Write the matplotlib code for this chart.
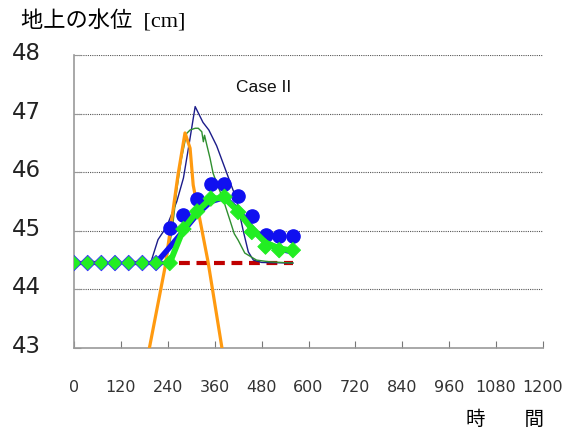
import matplotlib
matplotlib.use("Agg")
import matplotlib.pyplot as plt
import matplotlib.transforms as mtransforms

# ---------------- data ----------------
t_obs = [0, 35, 70, 105, 140, 175, 210, 245, 280, 315, 350, 385, 420, 455, 490, 525, 560]
green_obs = [44.45, 44.45, 44.45, 44.45, 44.45, 44.45, 44.45, 44.45,
             45.03, 45.33, 45.55, 45.58, 45.32, 44.98, 44.73, 44.67, 44.67]
t_blue_obs = [245, 280, 315, 350, 385, 420, 455, 490, 525, 560]
blue_obs = [45.05, 45.27, 45.55, 45.80, 45.80, 45.60, 45.26, 44.93, 44.91, 44.91]

t_blue_model = [210, 245, 280, 315, 350, 385, 420, 455, 490, 525, 560]
blue_model = [44.45, 44.72, 45.00, 45.28, 45.50, 45.57, 45.35, 45.05, 44.80, 44.69, 44.64]

t_green_model = [245, 280, 315, 350, 385, 420, 455, 490, 525, 560]
green_model = [44.45, 45.03, 45.33, 45.55, 45.56, 45.33, 45.03, 44.80, 44.70, 44.66]

t_navy = [196, 215, 237, 263, 280, 295, 310, 330, 345, 365, 390, 415, 433, 446, 459, 480, 560]
navy = [44.45, 44.85, 45.07, 45.50, 45.90, 46.50, 47.12, 46.85, 46.72, 46.45, 46.00,
        45.55, 45.00, 44.64, 44.50, 44.46, 44.45]

t_thin_green = [235, 251, 263, 274, 288, 297, 310, 318, 327, 331, 334, 340, 348, 356,
                369, 382, 399, 410, 420, 437, 467, 501, 560]
thin_green = [44.45, 45.00, 45.70, 46.20, 46.66, 46.72, 46.75, 46.75, 46.69, 46.52, 46.63,
              46.46, 46.24, 45.98, 45.75, 45.53, 45.18, 44.95, 44.84, 44.62, 44.50, 44.47, 44.45]

t_orange = [190, 233, 266, 284, 297, 305, 343, 381]
orange = [42.90, 44.38, 45.95, 46.67, 46.41, 45.78, 44.47, 42.90]

t_base = [0, 560]
base = [44.45, 44.45]

x_ticks = [0, 120, 240, 360, 480, 600, 720, 840, 960, 1080, 1200]
y_ticks = [43, 44, 45, 46, 47, 48]

# ---------------- figure ----------------
fig = plt.figure(figsize=(5.76, 4.34), dpi=100)
ax = fig.add_axes([74/576, 1-348/434, 469/576, 293/434])
ax.set_xlim(0, 1200)
ax.set_ylim(43, 48)

for y in y_ticks[1:]:
    ax.axhline(y, color="#555555", lw=0.8, ls=(0, (1, 1)), zorder=1)

ax.plot(t_base, base, color="#c00000", lw=3, ls=(0, (2.6, 1.6)), zorder=2)
ax.plot(t_navy, navy, color="#1c1c8a", lw=1.0, zorder=3)
ax.plot(t_thin_green, thin_green, color="#2f8f2f", lw=1.0, zorder=3)
ax.plot(t_orange, orange, color="#ff9a10", lw=2.3, zorder=4)
ax.plot(t_blue_model, blue_model, color="#1010f0", lw=4, solid_capstyle="round", zorder=5)
ax.plot(t_blue_obs, blue_obs, ls="none", marker="o", ms=9.5, color="#1010f0", zorder=6)
ax.plot(t_green_model, green_model, color="#22ee22", lw=4.3, solid_capstyle="round", zorder=7)
edge = ["#3030ff" if t < t_blue_obs[0] else "#22ee22" for t in t_obs]
ax.scatter(t_obs, green_obs, marker="D", s=62, c="#22ee22", edgecolors=edge,
           linewidths=0.6, zorder=8)

for s in ["top", "right"]:
    ax.spines[s].set_visible(False)
for s in ["left", "bottom"]:
    ax.spines[s].set_color("#9a9a9a")
    ax.spines[s].set_linewidth(1.2)

ax.set_xticks(x_ticks)
ax.set_xticklabels([str(v) for v in x_ticks], fontsize=11.5, family="DejaVu Sans")
ax.set_yticks(y_ticks)
ax.set_yticklabels([str(v) for v in y_ticks], fontsize=16.5, family="DejaVu Sans")
ax.tick_params(axis="x", direction="in", length=5, color="#777777", pad=23, labelcolor="#333333")
ax.tick_params(axis="y", direction="in", length=5, color="#999999", pad=24, labelcolor="#222222")
offset = mtransforms.ScaledTranslation(0, 4/100, fig.dpi_scale_trans)
for lab in ax.get_yticklabels():
    lab.set_transform(lab.get_transform() + offset)

ax.text(486, 47.45, "Case II", fontsize=12.5, family="Liberation Sans",
        ha="center", va="center", color="#111111")

fig.text(21/576, 1-21/434, "地上の水位  [cm]", fontsize=16,
         family=["Liberation Serif", "Noto Sans CJK JP"], va="center", ha="left")
fig.text(466/576, 1-419/434, "時\u3000\u3000間", fontsize=14,
         family=["Noto Sans CJK JP"], va="center", ha="left")

fig.savefig("out.png", dpi=100)
